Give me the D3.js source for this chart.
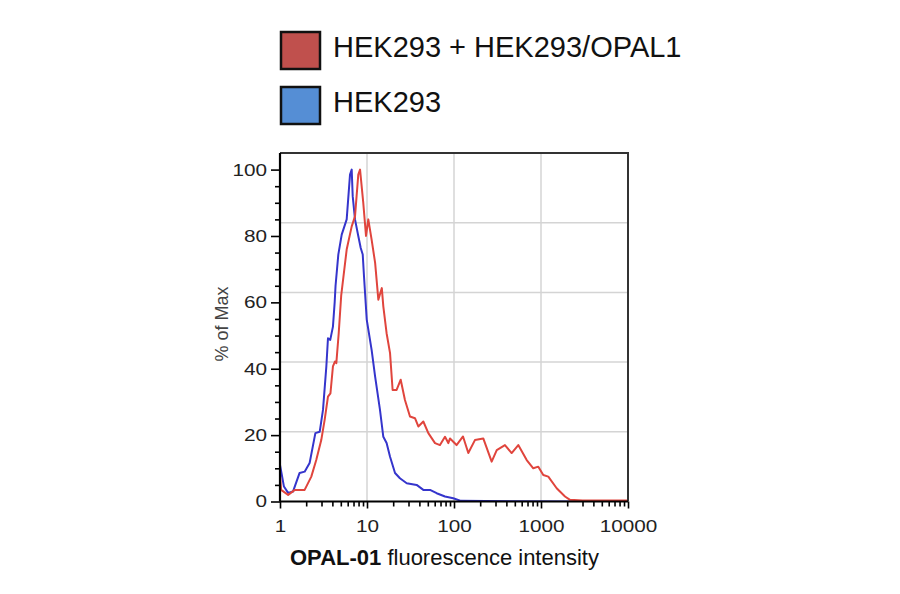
<!DOCTYPE html>
<html>
<head>
<meta charset="utf-8">
<script src="https://cdnjs.cloudflare.com/ajax/libs/d3/7.8.5/d3.min.js"></script>
<style>
	body { margin: 0; background: #fff; }
	svg { display: block; font-family: "Liberation Sans", Arial, sans-serif; }
	.stretch { transform-box: fill-box; transform: scaleX(1.22); }
</style>
</head>
<body>
<div id="vis"></div>
<script>

// legend entries
var seriesNames = ["HEK293 + HEK293/OPAL1", "HEK293"];
var legendFills = ["#c0504d", "#558ed5"];
var lineColors = ["#e0453d", "#3535cc"];

// axis ticks
var xTicks = [1, 10, 100, 1000, 10000];
var xTickLabels = ["1", "10", "100", "1000", "10000"];
var yTicks = [0, 20, 40, 60, 80, 100];

// HEK293 + HEK293/OPAL1 : [intensity, % of max]
var mixed = [
	[1.00, 8], [1.03, 3.5], [1.24, 2], [1.48, 3.5], [1.92, 3.5], [2.29, 7.5],
	[2.61, 12.5], [2.98, 18.5], [3.26, 24.6], [3.56, 31.6], [3.80, 32.6], [4.06, 40.7],
	[4.29, 42.2], [4.44, 41.7], [4.73, 50.7], [5.05, 62], [5.84, 75.9], [6.67, 82.9],
	[7.28, 85.9], [7.94, 98.5], [8.32, 100], [9.06, 90], [9.74, 80], [10.35, 85],
	[11.3, 78.9], [12.4, 71.9], [13.5, 60.8], [14.8, 64.3], [15.4, 58.8], [16.8, 50.7],
	[18.4, 44.7], [19.7, 33.6], [21.9, 33.6], [24.4, 36.7], [27.3, 30.6], [31.2, 25.6],
	[35.6, 25.1], [38.9, 22.6], [44.4, 24.1], [50.7, 20.6], [60.5, 17.6], [69, 17],
	[78.8, 19.5], [86, 17.6], [90, 19], [107, 17], [127, 19.6], [146, 14.6],
	[174, 18.5], [217, 19], [271, 12], [310, 15.5], [385, 17], [460, 14.6],
	[548, 17], [685, 12.5], [815, 10], [931, 10.5], [1062, 8], [1213, 7.5],
	[1514, 4], [1888, 1.5], [2154, 0.5], [3000, 0.3], [10000, 0.3]
];

// HEK293 alone
var hek = [
	[1.00, 11], [1.05, 8], [1.11, 4.5], [1.24, 2.6], [1.41, 3], [1.68, 8.6],
	[1.92, 9], [2.19, 11.6], [2.55, 20.6], [2.86, 21], [3.12, 27.6], [3.41, 40.7],
	[3.56, 49.2], [3.78, 48.7], [4.06, 52.7], [4.25, 60], [4.35, 65], [4.68, 74.4],
	[5.12, 80.4], [5.84, 85], [6.38, 98.5], [6.67, 100], [6.85, 92], [7.28, 85],
	[7.94, 80], [8.47, 76.4], [8.93, 74.4], [9.24, 67.8], [9.93, 54.8], [11.3, 45.7],
	[12.4, 37.6], [14.1, 27.6], [15.4, 19.5], [16.8, 17.6], [18.4, 13.5], [21, 8.6],
	[23.9, 7], [28.6, 5.5], [37.2, 5], [44.4, 3.5], [53, 3.5], [63.2, 2.5],
	[78.8, 1.5], [98, 1], [120, 0.2], [2000, 0], [10000, 0]
];

var W = 900, H = 594;
var pL = 280, pR = 628, pT = 153, pB = 501.5;

var svg = d3.select("#vis").append("svg")
	.attr("width", W)
	.attr("height", H);

var x = d3.scaleLog().domain([1, 10000]).range([pL, pR]);
var y = d3.scaleLinear().domain([0, 105]).range([pB, pT]);

// grid : decades across, five equal rows down
svg.append("g").selectAll("line")
	.data(xTicks.slice(1, -1))
	.enter().append("line")
	.attr("x1", function (d) { return x(d) })
	.attr("x2", function (d) { return x(d) })
	.attr("y1", pT).attr("y2", pB)
	.attr("stroke", "#d4d4d4").attr("stroke-width", 1.5);

svg.append("g").selectAll("line")
	.data([1, 2, 3, 4])
	.enter().append("line")
	.attr("x1", pL).attr("x2", pR)
	.attr("y1", function (d) { return y(105 * d / 5) })
	.attr("y2", function (d) { return y(105 * d / 5) })
	.attr("stroke", "#d4d4d4").attr("stroke-width", 1.5);

// curves
svg.append("clipPath").attr("id", "plot")
	.append("rect").attr("x", pL).attr("y", pT - 2)
	.attr("width", pR - pL).attr("height", pB - pT + 2);

var line = d3.line()
	.x(function (d) { return x(d[0]) })
	.y(function (d) { return y(d[1]) });

svg.append("g").attr("clip-path", "url(#plot)")
	.selectAll("path")
	.data([hek, mixed])
	.enter().append("path")
	.attr("d", line)
	.attr("fill", "none")
	.attr("stroke", function (d, i) { return i == 0 ? lineColors[1] : lineColors[0] })
	.attr("stroke-width", 2)
	.attr("stroke-linejoin", "round");

// frame top + right
svg.append("path")
	.attr("d", "M" + pL + "," + pT + "H" + pR + "V" + pB)
	.attr("fill", "none").attr("stroke", "#333").attr("stroke-width", 2);

// y axis, minor every 5
var yMinor = d3.range(0, 101, 5).filter(function (d) { return d % 20 != 0 });
svg.append("g")
	.attr("transform", "translate(" + pL + ",0)")
	.call(d3.axisLeft(y).tickValues(yMinor).tickSize(5).tickFormat(""))
	.call(function (g) { g.select(".domain").remove() });

var yAxis = svg.append("g")
	.attr("transform", "translate(" + pL + ",0)")
	.call(d3.axisLeft(y).tickValues(yTicks).tickSize(9).tickPadding(4));
yAxis.select(".domain").attr("d", "M0," + pT + "V" + pB);

// x axis, minor 2..9 per decade
var xMinor = [];
xTicks.slice(0, -1).forEach(function (d) {
	for (var k = 2; k < 10; k++) { xMinor.push(d * k) }
});
svg.append("g")
	.attr("transform", "translate(0," + pB + ")")
	.call(d3.axisBottom(x).tickValues(xMinor).tickSize(5).tickFormat(""))
	.call(function (g) { g.select(".domain").remove() });

var xAxis = svg.append("g")
	.attr("transform", "translate(0," + pB + ")")
	.call(d3.axisBottom(x).tickValues(xTicks).tickSize(7).tickPadding(11)
		.tickFormat(function (d, i) { return xTickLabels[i] }));
xAxis.select(".domain").attr("d", "M" + pL + ",0H" + pR);

svg.selectAll(".domain").attr("stroke", "#000").attr("stroke-width", 2.2);
svg.selectAll(".tick line").attr("stroke", "#000").attr("stroke-width", 1.6);

yAxis.selectAll("text")
	.attr("class", "stretch")
	.style("transform-origin", "right center")
	.attr("font-size", 17).attr("fill", "#222");
xAxis.selectAll("text")
	.attr("class", "stretch")
	.style("transform-origin", "center")
	.attr("font-size", 17).attr("fill", "#222");

// axis titles
svg.append("text")
	.attr("transform", "translate(228,324) rotate(-90)")
	.attr("text-anchor", "middle")
	.attr("font-size", 18).attr("fill", "#444")
	.text("% of Max");

var xTitle = svg.append("text")
	.attr("x", 290).attr("y", 565)
	.attr("font-size", 22).attr("fill", "#111");
xTitle.append("tspan").attr("font-weight", "bold").text("OPAL-01");
xTitle.append("tspan").text(" fluorescence intensity");

// legend
var legend = svg.append("g").selectAll("g")
	.data(seriesNames)
	.enter().append("g")
	.attr("transform", function (d, i) { return "translate(281," + (32 + i * 55) + ")" });

legend.append("rect")
	.attr("width", 39).attr("height", 37)
	.attr("fill", function (d, i) { return legendFills[i] })
	.attr("stroke", "#111").attr("stroke-width", 2.5);

legend.append("text")
	.attr("x", 52).attr("y", 25)
	.attr("font-size", 29).attr("fill", "#111")
	.text(function (d) { return d });

</script>
</body>
</html>
